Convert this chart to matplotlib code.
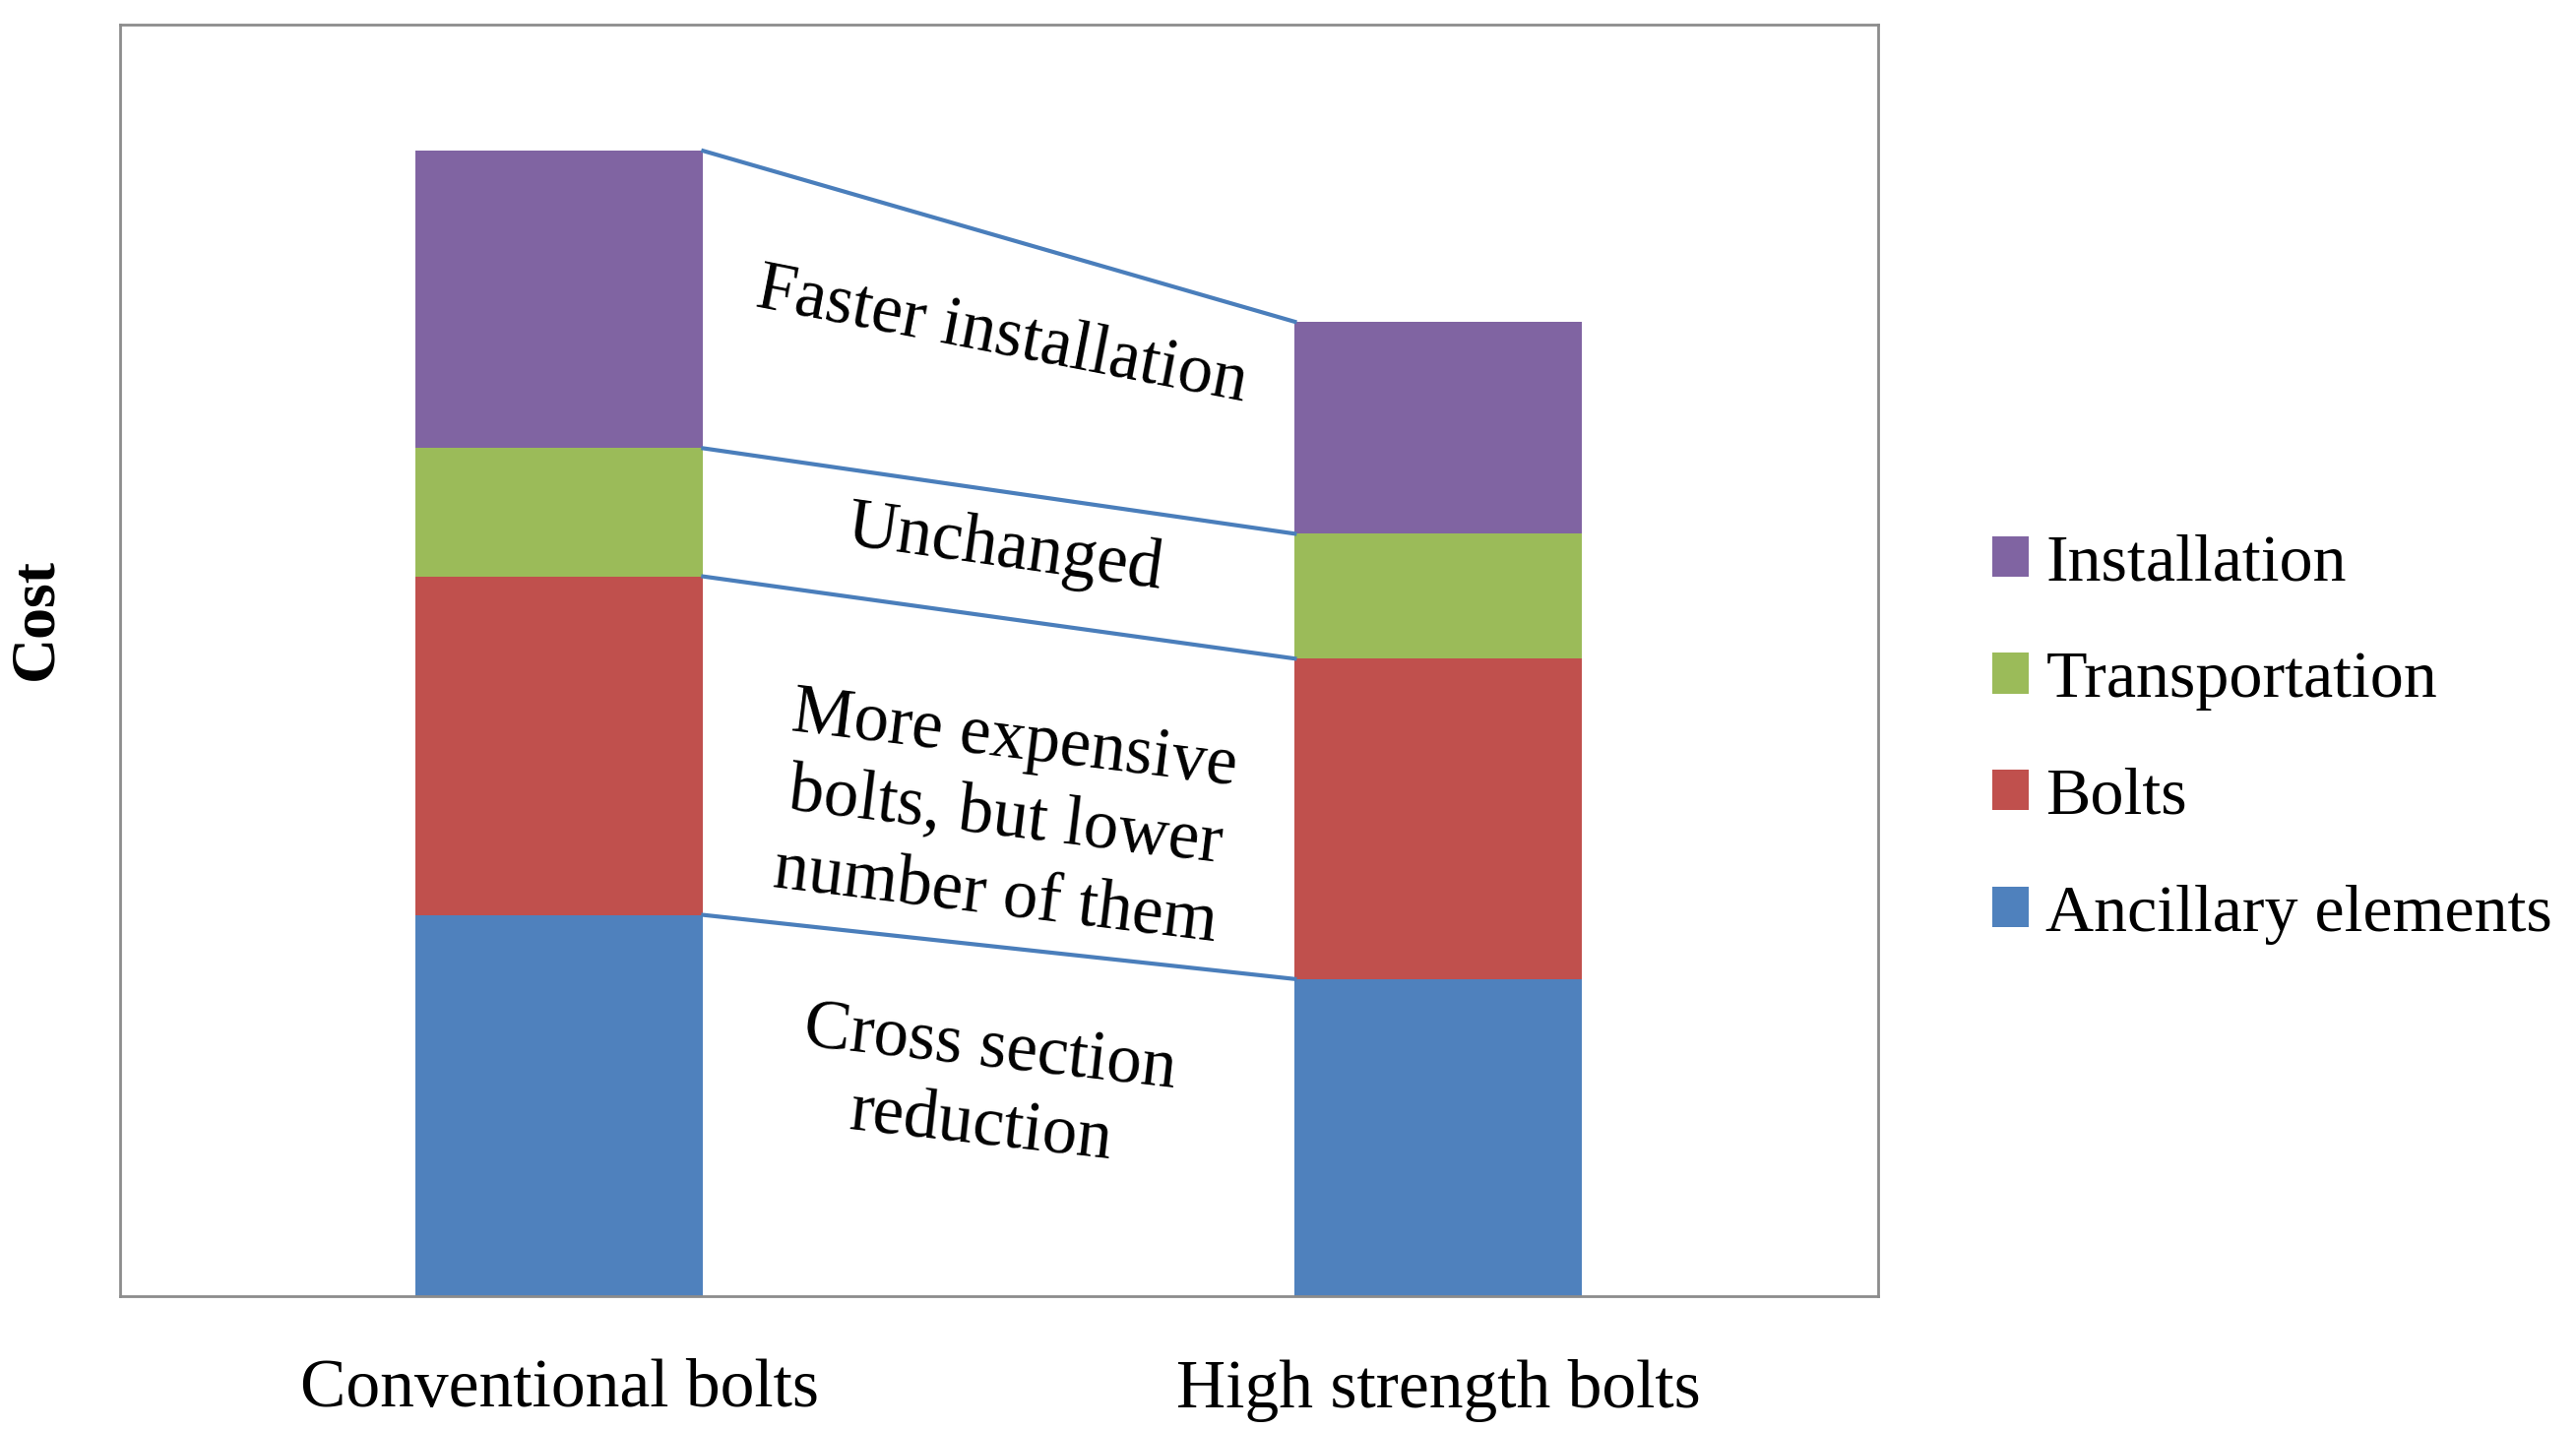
import matplotlib
matplotlib.use("Agg")
import matplotlib.pyplot as plt
import numpy as np

# données (unités arbitraires de coût)
categories = ["Conventional bolts", "High strength bolts"]
components = ["Ancillary elements", "Bolts", "Transportation", "Installation"]
ancillary = [232, 193]
bolts = [206, 195]
transport = [78, 76]
installation = [181, 129]
colors = ["#4F81BD", "#C0504D", "#9BBB59", "#8064A2"]

notes = ["Cross section\nreduction",
         "More expensive\nbolts, but lower\nnumber of them",
         "Unchanged",
         "Faster installation"]

plt.rcParams["font.family"] = ["Liberation Serif", "DejaVu Serif"]

fig = plt.figure(figsize=(26.17, 14.53), dpi=100)
ax = fig.add_axes([0.0466, 0.0936, 0.6824, 0.8894])

x = np.arange(len(categories))
w = 0.327
series = [ancillary, bolts, transport, installation]
bottom = np.zeros(len(categories))
tops = []
for vals, col, name in zip(series, colors, components):
    ax.bar(x, vals, w, bottom=bottom, color=col, label=name, linewidth=0)
    bottom = bottom + np.array(vals)
    tops.append(bottom.copy())

# lignes de liaison entre les deux colonnes
for t in tops:
    ax.plot([x[0] + w / 2, x[1] - w / 2], [t[0], t[1]], color="#4A7EBB", lw=3)

# annotations le long des liaisons (position en pixels de la figure)
note_pos = [(1001, 1106, -6.5), (1021, 832, -7), (1021, 558, -8), (1018, 342, -11)]
for txt, (px, py, rot) in zip(notes, note_pos):
    fig.text(px / 2617, 1 - py / 1453, txt, rotation=rot, ha="center", va="center",
             fontsize=51, linespacing=1.3, rotation_mode="anchor")

ax.set_xlim(-0.5, 1.5)
ax.set_ylim(0, 774)
ax.set_yticks([])
ax.set_xticks(x)
ax.set_xticklabels(categories, fontsize=50)
ax.tick_params(axis="x", length=0, pad=46)
for s in ax.spines.values():
    s.set_color("#8C8C8C")
    s.set_linewidth(2)

fig.text(37 / 2617, 1 - 629 / 1453, "Cost", rotation=90, ha="center", va="center",
         fontsize=46, fontweight="bold")

h, l = ax.get_legend_handles_labels()
fig.legend(h[::-1], l[::-1], loc="center left", bbox_to_anchor=(2024 / 2617, 1 - 751 / 1453),
           frameon=False, fontsize=49, handlelength=0.55, handleheight=0.55,
           handletextpad=0.25, labelspacing=0.85, borderpad=0, borderaxespad=0)

fig.savefig("out.png", dpi=100)
